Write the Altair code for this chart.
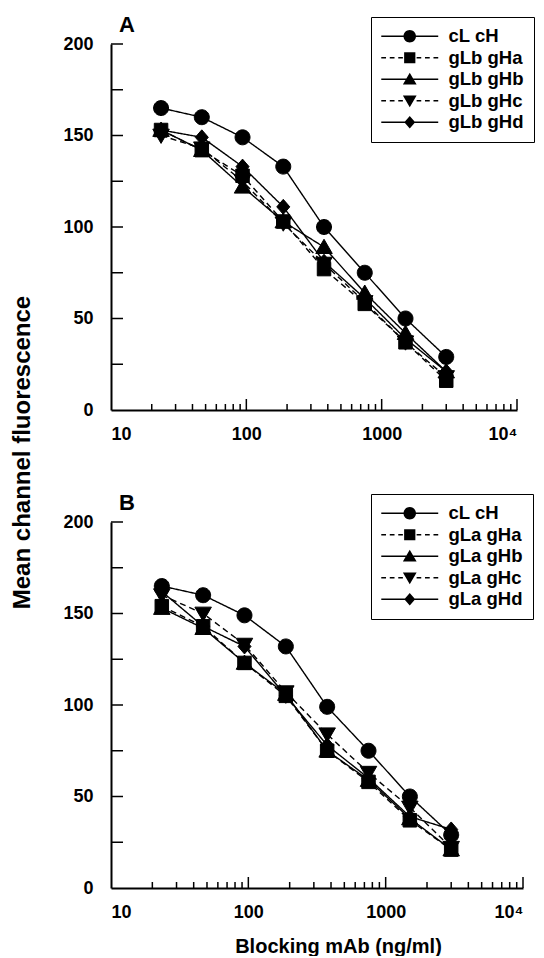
import altair as alt
import pandas as pd

# ---------------- data ----------------
doses = [23.4375, 46.875, 93.75, 187.5, 375, 750, 1500, 3000]

series_a = ["cL cH", "gLb gHa", "gLb gHb", "gLb gHc", "gLb gHd"]
a_cL_cH = [165, 160, 149, 133, 100, 75, 50, 29]
a_gHa = [153, 142, 128, 103, 77, 58, 37, 16]
a_gHb = [153, 142, 122, 103, 89, 64, 42, 21]
a_gHc = [150, 143, 125, 102, 80, 59, 37, 18]
a_gHd = [153, 149, 133, 111, 81, 61, 39, 21]

series_b = ["cL cH", "gLa gHa", "gLa gHb", "gLa gHc", "gLa gHd"]
b_cL_cH = [165, 160, 149, 132, 99, 75, 50, 29]
b_gHa = [154, 143, 123, 105, 75, 58, 37, 21]
b_gHb = [153, 142, 123, 106, 75, 59, 38, 21]
b_gHc = [160, 150, 133, 107, 84, 63, 44, 22]
b_gHd = [162, 143, 132, 105, 78, 60, 39, 32]

y_label_values = [0, 50, 100, 150, 200]
y_tick_values = [25, 50, 75, 100, 125, 150, 175, 200]
x_label_values = [10, 100, 1000, 10000]
x_major_ticks = [100, 1000, 10000]
x_minor_ticks = [20, 30, 40, 50, 60, 70, 80, 90,
                 200, 300, 400, 500, 600, 700, 800, 900,
                 2000, 3000, 4000, 5000, 6000, 7000, 8000, 9000]

FONT = "Liberation Sans"

# marker shapes (unit = sqrt(size)/2 px)
marker_paths = [
    "M-1,0A1,1,0,1,1,1,0A1,1,0,1,1,-1,0Z",
    "M-0.9,-0.9H0.9V0.9H-0.9Z",
    "M0,-1.05L1.1,0.85H-1.1Z",
    "M0,1.05L-1.1,-0.85H1.1Z",
    "M0,-1L0.87,0L0,1L-0.87,0Z",
]
# legend symbols: marker plus a thin filled bar (solid or dashed) through it
solid_seg = "M-4.56,-0.11H4.56V0.11H-4.56Z"
dash_seg = ("M-4.56,-0.11H-3.8V0.11H-4.56Z"
            "M-3.2,-0.11H-2.44V0.11H-3.2Z"
            "M-1.84,-0.11H-1.1V0.11H-1.84Z"
            "M1.1,-0.11H1.84V0.11H1.1Z"
            "M2.44,-0.11H3.2V0.11H2.44Z"
            "M3.8,-0.11H4.56V0.11H3.8Z")
legend_paths = [
    marker_paths[0] + solid_seg,
    marker_paths[1] + dash_seg,
    marker_paths[2] + solid_seg,
    marker_paths[3] + dash_seg,
    marker_paths[4] + solid_seg,
]
dash_range = [[1, 0], [6, 4], [1, 0], [6, 4], [1, 0]]


def panel(series, values, letter, w, h, legend_y, title_dy, x_title, y_title):
    rows = []
    for s, vals in zip(series, values):
        for d, v in zip(doses, vals):
            rows.append({"dose": d, "mcf": v, "series": s})
    df = pd.DataFrame(rows)

    xscale = alt.Scale(type="log", domain=[10, 10000], nice=False)
    yscale = alt.Scale(domain=[0, 200], nice=False)

    x_axis = alt.Axis(
        values=x_label_values,
        labelExpr="datum.value == 10000 ? '10\u2074' : format(datum.value, 'd')",
        title=x_title if x_title else None,
        titleX=227, titleY=64, titleBaseline="alphabetic", titleAlign="center",
        titleFontSize=20,
        labelPadding=15,
    )
    y_axis = alt.Axis(
        values=y_label_values,
        title=y_title if y_title else None,
        titleX=-82, titleY=408, titleBaseline="alphabetic", titleAlign="center",
        titleFontSize=24,
        labelPadding=18,
    )

    X = alt.X("dose:Q", scale=xscale, axis=x_axis)
    Y = alt.Y("mcf:Q", scale=yscale, axis=y_axis)

    base = alt.Chart(df)
    lines = base.mark_line(color="black", strokeWidth=1.4).encode(
        x=X, y=Y,
        detail="series:N",
        strokeDash=alt.StrokeDash("series:N",
                                  scale=alt.Scale(domain=series, range=dash_range),
                                  legend=None),
    )
    points = base.mark_point(
        filled=True, fill="black", stroke="black", strokeWidth=1,
        opacity=1, size=225).encode(
        x=X, y=Y,
        shape=alt.Shape("series:N",
                        scale=alt.Scale(domain=series, range=marker_paths),
                        legend=None),
    )
    # layer without rows that only carries the legend (its own shape scale)
    legend_layer = base.transform_filter("false").mark_point(
        filled=True, fill="black", opacity=1, size=156).encode(
        x=X, y=Y,
        shape=alt.Shape("series:N",
                        scale=alt.Scale(domain=series, range=legend_paths),
                        legend=alt.Legend(
                            title=None, orient="none",
                            legendX=260, legendY=legend_y,
                            strokeColor="black", fillColor="white",
                            padding=10, symbolSize=156,
                            symbolOffset=19.5, labelOffset=29.5,
                            symbolFillColor="black", symbolStrokeColor="black",
                            symbolStrokeWidth=0.6, symbolOpacity=1,
                            labelFont=FONT, labelFontSize=18.5,
                            labelFontWeight="bold", labelColor="black",
                            rowPadding=2.5, labelLimit=200,
                        )),
    )

    ytick_df = pd.DataFrame({"mcf": y_tick_values})
    yticks = alt.Chart(ytick_df).mark_rule(color="black", strokeWidth=1.5).encode(
        y=alt.Y("mcf:Q", scale=yscale, axis=y_axis),
        x=alt.value(0), x2=alt.value(12),
    )
    xmaj_df = pd.DataFrame({"dose": x_major_ticks})
    xmaj = alt.Chart(xmaj_df).mark_rule(color="black", strokeWidth=1.5).encode(
        x=alt.X("dose:Q", scale=xscale, axis=x_axis),
        y=alt.value(h), y2=alt.value(h - 11),
    )
    xmin_df = pd.DataFrame({"dose": x_minor_ticks})
    xmin = alt.Chart(xmin_df).mark_rule(color="black", strokeWidth=1.5).encode(
        x=alt.X("dose:Q", scale=xscale, axis=x_axis),
        y=alt.value(h), y2=alt.value(h - 6),
    )

    return alt.layer(yticks, xmaj, xmin, lines, points, legend_layer).resolve_scale(
        shape="independent"
    ).properties(
        width=w, height=h,
        title=alt.TitleParams(letter, anchor="start", frame="group", dx=8,
                              dy=title_dy, fontSize=22, font=FONT,
                              fontWeight="bold", color="black"),
    )


panel_a = panel(series_a, [a_cL_cH, a_gHa, a_gHb, a_gHc, a_gHd], "A",
                406, 366, -27, 24.5, None, "Mean channel fluorescence")
panel_b = panel(series_b, [b_cL_cH, b_gHa, b_gHb, b_gHc, b_gHd], "B",
                412, 366, -28, 25.5, "Blocking mAb (ng/ml)", None)

chart = alt.vconcat(panel_a, panel_b, spacing=112, bounds="flush").resolve_scale(
    shape="independent", strokeDash="independent"
).properties(
    padding={"left": 2, "top": 6, "right": 0, "bottom": 0}
).configure_view(stroke=None).configure_axis(
    domainColor="black", domainWidth=2, ticks=False, tickSize=0, grid=False,
    labelFont=FONT, labelFontSize=18, labelFontWeight="bold", labelColor="black",
    titleFont=FONT, titleFontWeight="bold", titleColor="black",
).configure_title(font=FONT)

chart.save("out.html", embed_options={"renderer": "svg", "actions": False})
